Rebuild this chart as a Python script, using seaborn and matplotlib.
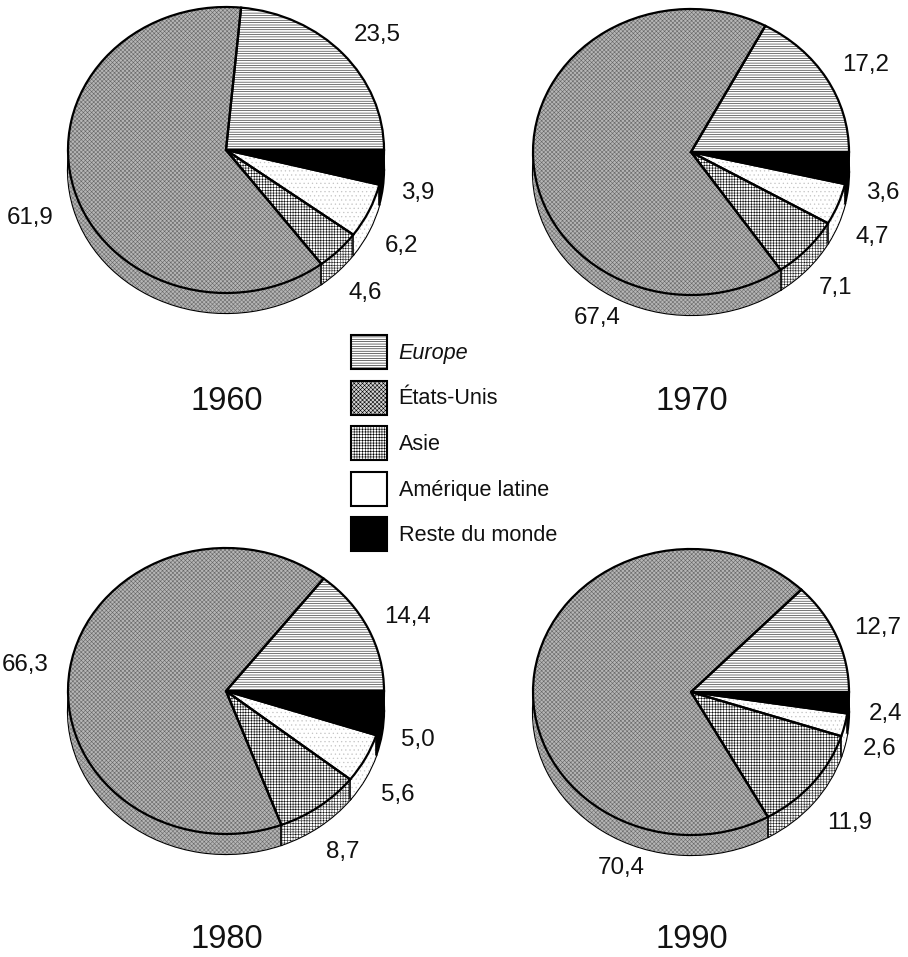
import matplotlib
matplotlib.use("Agg")
import matplotlib.pyplot as plt
from matplotlib.patches import Patch
import numpy as np
import seaborn as sns

sns.set_theme(style="white")
plt.rcParams['font.family'] = ['Liberation Sans', 'DejaVu Sans']
plt.rcParams['hatch.linewidth'] = 0.4

regions = ["Europe", "États-Unis", "Asie", "Amérique latine", "Reste du monde"]
years = ["1960", "1970", "1980", "1990"]
v1960 = [23.5, 61.9, 4.6, 6.2, 3.9]
v1970 = [17.2, 67.4, 7.1, 4.7, 3.6]
v1980 = [14.4, 66.3, 8.7, 5.6, 5.0]
v1990 = [12.7, 70.4, 11.9, 2.6, 2.4]
series = [v1960, v1970, v1980, v1990]

faces = ["white", "#b6b6b6", "white", "white", "black"]
hatch_colors = ["#111111", "#666666", "#111111", "#c4c4c4", "black"]
hatches = ["-------", "xxxxxxxx", "++++++", "....", None]
legend_faces = ["white", "#d4d4d4", "white", "white", "black"]
legend_hatches = ["-------", "xxxxxxxx", "++++++", None, None]

W, H = 908, 957
centers = [(226, 150), (691, 152), (226, 691), (691, 692)]
rx, ry, depth = 158, 143, 20
label_pos = [
    [(377, 35), (30, 218), (365, 293), (401, 246), (418, 193)],
    [(866, 65), (597, 318), (835, 288), (872, 237), (883, 193)],
    [(408, 617), (25, 665), (343, 852), (398, 795), (418, 740)],
    [(878, 628), (621, 868), (850, 823), (880, 749), (885, 714)],
]
year_pos = [(227, 401), (692, 402), (227, 940), (692, 939)]

fig = plt.figure(figsize=(W / 100, H / 100), dpi=100)
fig.patch.set_facecolor("white")


def filled_pie(ax, vals, dy):
    wedges, _ = ax.pie(vals, startangle=0, radius=1, center=(0, dy),
                       wedgeprops=dict(linewidth=0, clip_on=False))
    for w, fc, hc, h in zip(wedges, faces, hatch_colors, hatches):
        w.set_facecolor(fc)
        w.set_edgecolor(hc)
        w.set_linewidth(0)
        w.set_hatch(h)


def outline_pie(ax, vals, dy):
    ax.pie(vals, startangle=0, radius=1, center=(0, dy),
           colors=["none"] * len(vals),
           wedgeprops=dict(linewidth=1.6, edgecolor="black", clip_on=False))


for vals, (cx, cy) in zip(series, centers):
    ax = fig.add_axes([(cx - rx) / W, 1 - (cy + ry) / H, 2 * rx / W, 2 * ry / H])
    d = depth / ry
    outline_pie(ax, vals, -d)
    for f in np.linspace(1, 0, 11):
        filled_pie(ax, vals, -d * f)
    outline_pie(ax, vals, 0)
    # vertical edges of the disc side at the slice boundaries of the lower half
    ang = np.deg2rad(np.cumsum(vals) / np.sum(vals) * 360)
    for a in ang:
        if np.sin(a) < 0:
            ax.plot([np.cos(a)] * 2, [np.sin(a), np.sin(a) - d],
                    color="black", lw=1.2, clip_on=False)
    ax.set_aspect("auto")
    ax.set_xlim(-1, 1)
    ax.set_ylim(-1, 1)

overlay = fig.add_axes([0, 0, 1, 1], facecolor="none")
overlay.set_xlim(0, W)
overlay.set_ylim(H, 0)
overlay.axis("off")

for vals, poss, year, yp in zip(series, label_pos, years, year_pos):
    for v, p in zip(vals, poss):
        overlay.text(p[0], p[1], f"{v:.1f}".replace(".", ","), fontsize=17.4,
                     ha="center", va="center", color="#111111")
    overlay.text(yp[0], yp[1], year, fontsize=23.5, ha="center", va="center",
                 color="#111111")

handles = [Patch(facecolor=fc, edgecolor="black", hatch=h, linewidth=1.5)
           for fc, h in zip(legend_faces, legend_hatches)]
leg = overlay.legend(handles, regions, loc="upper left", bbox_to_anchor=(351 / W, 1 - 335 / H),
                     bbox_transform=fig.transFigure, frameon=False, fontsize=15.6,
                     handlelength=1.68, handleheight=2.05, handletextpad=0.52,
                     labelspacing=0.525, borderpad=0, borderaxespad=0)
for t in leg.get_texts():
    t.set_color("#111111")
leg.get_texts()[0].set_fontstyle("italic")

fig.savefig("out.png", dpi=100, facecolor="white")
